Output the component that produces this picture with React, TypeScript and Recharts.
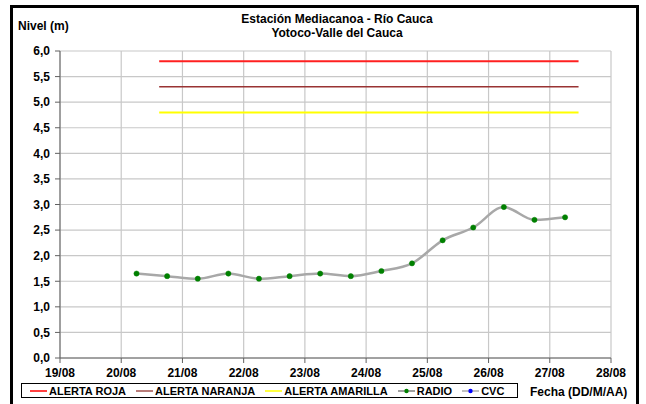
import { LineChart, Line, XAxis, YAxis, CartesianGrid } from "recharts";

// days counted from 19/08 00:00
const dayTicks = [0, 1, 2, 3, 4, 5, 6, 7, 8, 9];
const dayLabels = ["19/08", "20/08", "21/08", "22/08", "23/08", "24/08", "25/08", "26/08", "27/08", "28/08"];
const levelTicks = [0, 0.5, 1, 1.5, 2, 2.5, 3, 3.5, 4, 4.5, 5, 5.5, 6];

// RADIO readings (06:00 and 18:00 each day)
const radioDays = [1.25, 1.75, 2.25, 2.75, 3.25, 3.75, 4.25, 4.75, 5.25, 5.75, 6.25, 6.75, 7.25, 7.75, 8.25];
const radioLevels = [1.65, 1.6, 1.55, 1.65, 1.55, 1.6, 1.65, 1.6, 1.7, 1.85, 2.3, 2.55, 2.95, 2.7, 2.75];

// alert thresholds (m) and the span they are drawn over
const alertDays = [1.62, 8.47];
const alertRoja = 5.8;
const alertNaranja = 5.3;
const alertAmarilla = 4.8;

const radioData = radioDays.map((x, i) => ({ x, y: radioLevels[i] }));
const rojaData = alertDays.map((x) => ({ x, y: alertRoja }));
const naranjaData = alertDays.map((x) => ({ x, y: alertNaranja }));
const amarillaData = alertDays.map((x) => ({ x, y: alertAmarilla }));

const FONT = "'Liberation Sans', Arial, sans-serif";

const legendItems = [
  { label: "ALERTA ROJA", color: "#ff0000", dot: null as string | null },
  { label: "ALERTA NARANJA", color: "#a0504c", dot: null },
  { label: "ALERTA AMARILLA", color: "#ffff00", dot: null },
  { label: "RADIO", color: "#a0a0a0", dot: "#008000" },
  { label: "CVC", color: "#c0c0c0", dot: "#0000ff" },
];

function LegendBox() {
  return (
    <div
      style={{
        position: "absolute",
        left: 21,
        top: 383,
        width: 487,
        height: 13,
        border: "1px solid #000",
        display: "flex",
        alignItems: "center",
        paddingLeft: 8,
        boxSizing: "content-box",
        fontFamily: FONT,
        fontWeight: "bold",
        fontSize: 11,
        whiteSpace: "nowrap",
      }}
    >
      {legendItems.map((it) => (
        <div key={it.label} style={{ display: "flex", alignItems: "center", marginRight: 10 }}>
          <svg width={17} height={10} style={{ marginRight: 2 }}>
            <line x1={0} y1={5} x2={17} y2={5} stroke={it.color} strokeWidth={it.dot ? 2 : 1.5} />
            {it.dot && <circle cx={8.5} cy={5} r={2.2} fill={it.dot} />}
          </svg>
          <span>{it.label}</span>
        </div>
      ))}
    </div>
  );
}

export default function App() {
  return (
    <div style={{ position: "absolute", left: 0, top: 0, width: 646, height: 404, overflow: "hidden", background: "#fff", fontFamily: FONT }}>
      <div
        style={{
          position: "absolute",
          left: 10,
          top: 5,
          width: 623,
          height: 420,
          border: "3px solid #000",
        }}
      />
      <div style={{ position: "absolute", left: 0, width: 674, top: 12, textAlign: "center", fontWeight: "bold", fontSize: 12, lineHeight: "14px" }}>
        <div>Estación Mediacanoa - Río Cauca</div>
        <div>Yotoco-Valle del Cauca</div>
      </div>
      <div style={{ position: "absolute", left: 18, top: 19, fontWeight: "bold", fontSize: 12 }}>Nivel (m)</div>
      <div style={{ position: "absolute", left: 530, top: 385, fontWeight: "bold", fontSize: 12 }}>Fecha (DD/M/AA)</div>

      <LineChart
        width={646}
        height={404}
        margin={{ top: 51, right: 35, left: 10, bottom: 0 }}
        style={{ position: "absolute", left: 0, top: 0 }}
      >
        <CartesianGrid stroke="#c8c8c8" strokeWidth={1.2} />
        <XAxis
          type="number"
          dataKey="x"
          domain={[0, 9]}
          ticks={dayTicks}
          tickFormatter={(v: number) => dayLabels[v]}
          height={46}
          tickSize={5}
          tickMargin={5}
          stroke="#606060"
          tick={{ fill: "#000", fontSize: 12, fontWeight: "bold" }}
          allowDuplicatedCategory={false}
        />
        <YAxis
          type="number"
          domain={[0, 6]}
          ticks={levelTicks}
          tickFormatter={(v: number) => v.toFixed(1).replace(".", ",")}
          width={50}
          tickSize={5}
          tickMargin={5}
          stroke="#606060"
          tick={{ fill: "#000", fontSize: 12, fontWeight: "bold" }}
        />
        <Line data={rojaData} dataKey="y" stroke="#ff2020" strokeWidth={2} dot={false} isAnimationActive={false} />
        <Line data={naranjaData} dataKey="y" stroke="#993333" strokeWidth={1.5} dot={false} isAnimationActive={false} />
        <Line data={amarillaData} dataKey="y" stroke="#ffff00" strokeWidth={2} dot={false} isAnimationActive={false} />
        <Line
          data={radioData}
          dataKey="y"
          type="monotone"
          stroke="#a8a8a8"
          strokeWidth={2.5}
          dot={{ r: 2.6, fill: "#008000", stroke: "#008000", strokeWidth: 0.5 }}
          isAnimationActive={false}
        />
      </LineChart>
      <LegendBox />
    </div>
  );
}
